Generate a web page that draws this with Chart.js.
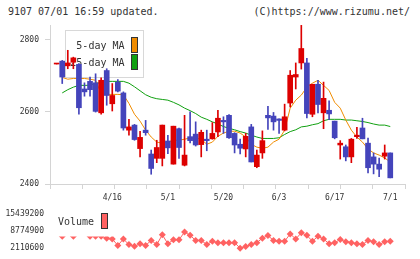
<!DOCTYPE html>
<html>
<head>
<meta charset="utf-8">
<script src="https://cdn.jsdelivr.net/npm/chart.js@4/dist/chart.umd.min.js"></script>
<style>
body { margin: 0; background: #fff; }
#wrap { position: relative; width: 420px; height: 259px; overflow: hidden; font-family: 'DejaVu Sans Mono', monospace; color: #333; }
.hdr { position: absolute; top: 6px; font-size: 10px; line-height: 12px; white-space: pre; }
#mainChart { position: absolute; left: 0; top: 0; }
#volChart { position: absolute; left: 0; top: 203px; }
</style>
</head>
<body>
<div id="wrap">
  <div class="hdr" style="left:8px">9107 07/01 16:59 updated.</div>
  <div class="hdr" style="right:10px">(C)https://www.rizumu.net/</div>
  <canvas id="mainChart" width="420" height="206"></canvas>
  <canvas id="volChart" width="420" height="56"></canvas>
</div>
<script>
// daily candles, oldest first (61 trading days)
const opens  = [2732,2740,2727,2737,2731,2663,2684,2680,2597,2714,2622,2682,2652,2549,2563,2498,2549,2483,2471,2471,
                2519,2455,2553,2452,2531,2538,2509,2524,2525,2544,2576,2590,2540,2510,2497,2558,2448,2486,2590,2588,
                2580,2549,2624,2696,2735,2735,2593,2676,2597,2604,2574,2508,2503,2475,2531,2555,2513,2475,2455,2477,2486];
const highs  = [2734,2742,2770,2751,2733,2680,2696,2705,2694,2719,2678,2689,2655,2579,2565,2546,2576,2494,2521,2563,
                2535,2560,2555,2590,2600,2572,2549,2549,2570,2604,2586,2592,2542,2524,2540,2565,2494,2547,2615,2598,
                2580,2621,2714,2735,2839,2748,2676,2687,2682,2630,2574,2520,2508,2526,2557,2582,2527,2486,2472,2508,2486];
const lows   = [2732,2678,2719,2719,2593,2643,2643,2599,2593,2618,2602,2655,2549,2535,2521,2475,2535,2427,2459,2450,
                2484,2455,2471,2450,2514,2505,2475,2492,2524,2531,2540,2526,2486,2483,2475,2461,2445,2471,2551,2549,
                2540,2547,2613,2663,2718,2583,2586,2597,2553,2578,2525,2469,2464,2459,2526,2525,2431,2428,2420,2469,2417];
const closes = [2734,2696,2735,2749,2611,2655,2661,2601,2687,2645,2645,2657,2555,2558,2523,2529,2542,2443,2501,2563,
                2500,2560,2501,2480,2520,2508,2543,2520,2540,2582,2572,2528,2508,2499,2532,2461,2480,2520,2583,2572,
                2576,2586,2701,2703,2775,2595,2676,2620,2637,2594,2528,2513,2475,2524,2535,2525,2445,2455,2441,2486,2417];

const ma5  = [null,2695,2690,2692,2692,2692,2690,2687,2650,2648,2648,2648,2647,2623,2593,2574,2549,2530,2516,2513,
              2516,2521,2521,2524,2527,2527,2524,2510,2516,2532,2541,2546,2546,2541,2530,2510,2502,2499,2502,2516,
              2524,2549,2610,2632,2646,2668,2679,2687,2673,2659,2626,2610,2577,2549,2530,2516,2497,2486,2480,2472,2461];
const ma25 = [null,2652,2661,2668,2673,2673,2673,2679,2680,2684,2684,2684,2684,2679,2669,2658,2647,2640,2636,2634,
              2632,2626,2619,2610,2603,2595,2585,2579,2572,2566,2559,2554,2550,2545,2541,2535,2530,2526,2526,2526,
              2528,2537,2545,2550,2558,2560,2564,2567,2575,2579,2579,2579,2577,2577,2575,2573,2570,2566,2563,2563,2559];

const volumes = [9035000,6760000,8385000,6760000,15439200,9685000,6760000,6760000,6760000,5947000,
                 5687000,3184000,5687000,3508000,2858000,3834000,3184000,5134000,3508000,7312000,
                 3834000,5362000,5362000,8385000,7085000,5134000,5134000,3508000,4809000,4256000,
                 4256000,4256000,4256000,2110600,2761000,3508000,4256000,6012000,6987000,5134000,
                 4809000,4809000,7637000,5687000,8060000,7085000,4809000,6760000,5687000,3834000,
                 4256000,5459000,4581000,4256000,3834000,3508000,5134000,4581000,3508000,4581000,4809000];

const dateLabels   = ['4/16', '5/1', '5/20', '6/3', '6/17', '7/1'];
const dateLabelIdx = [10, 20, 30, 40, 50, 60];
const priceTicks   = [2400, 2600, 2800];
const volumeTicks  = [2110600, 8774900, 15439200];
const maLabels     = ['5-day MA', '25-day MA'];

const upColor = '#dd0000';
const downColor = '#4444bb';
const maColors = ['#f08c00', '#10a010'];
const volColor = '#ff6262';
const axisColor = '#d4d4d4';
const tickFont = { family: 'DejaVu Sans Mono', size: 8 };

// x range picked so candle slots line up with the reference
const xMin = -1.2, xMax = 62.65;

function swatch(ctx, x, y, w, h, color) {
    ctx.fillStyle = color;
    ctx.fillRect(x, y, w, h);
    ctx.strokeStyle = '#333';
    ctx.lineWidth = 1;
    ctx.strokeRect(x, y, w, h);
}

const maLegend = {
    id: 'maLegend',
    beforeDatasetsDraw(chart) {
        const ctx = chart.ctx;
        ctx.save();
        ctx.fillStyle = '#fff';
        ctx.fillRect(65.5, 30.5, 78, 47);
        ctx.strokeStyle = '#d8d8d8';
        ctx.lineWidth = 1;
        ctx.strokeRect(65.5, 30.5, 78, 47);
        ctx.font = '10px "DejaVu Sans Mono"';
        ctx.textAlign = 'right';
        ctx.textBaseline = 'middle';
        ctx.fillStyle = '#333';
        ctx.fillText(maLabels[0], 124.5, 46);
        ctx.fillText(maLabels[1], 124.5, 63);
        swatch(ctx, 131.5, 37.5, 6, 15, maColors[0]);
        swatch(ctx, 131.5, 54.5, 6, 15, maColors[1]);
        ctx.restore();
    }
};

const volLegend = {
    id: 'volLegend',
    afterDatasetsDraw(chart) {
        const ctx = chart.ctx;
        ctx.save();
        ctx.fillStyle = '#fff';
        ctx.fillRect(52, 0, 61, 33.5);
        ctx.font = '10px "DejaVu Sans Mono"';
        ctx.textAlign = 'left';
        ctx.textBaseline = 'middle';
        ctx.fillStyle = '#333';
        ctx.fillText('Volume', 58, 19);
        swatch(ctx, 101.5, 10.5, 6, 15, volColor);
        ctx.restore();
    }
};

function initCharts() {
    const candleColors = opens.map((o, i) => closes[i] >= o ? upColor : downColor);

    new Chart(document.getElementById('mainChart'), {
        type: 'bar',
        data: {
            datasets: [
                {
                    type: 'bar', label: 'body', grouped: false, order: 0,
                    data: opens.map((o, i) => ({ x: i, y: [o, closes[i]] })),
                    backgroundColor: candleColors, barThickness: 5, minBarLength: 1
                },
                {
                    type: 'bar', label: 'wick', grouped: false, order: 1,
                    data: lows.map((l, i) => ({ x: i, y: [l, highs[i]] })),
                    backgroundColor: candleColors, barThickness: 1
                },
                {
                    type: 'line', label: maLabels[0], order: 2,
                    data: ma5.map((v, i) => ({ x: i, y: v })),
                    borderColor: maColors[0], borderWidth: 1, pointRadius: 0, tension: 0
                },
                {
                    type: 'line', label: maLabels[1], order: 3,
                    data: ma25.map((v, i) => ({ x: i, y: v })),
                    borderColor: maColors[1], borderWidth: 1, pointRadius: 0, tension: 0
                }
            ]
        },
        options: {
            responsive: false,
            animation: false,
            devicePixelRatio: 1,
            layout: { padding: { top: 25, right: 15, left: 0, bottom: 0 } },
            plugins: { legend: { display: false }, tooltip: { enabled: false } },
            scales: {
                x: {
                    type: 'linear', position: 'bottom', min: xMin, max: xMax, weight: 0, offset: false,
                    afterBuildTicks: s => {
                        const step = (xMax - xMin) / 11;
                        s.ticks = Array.from({ length: 12 }, (_, k) => ({ value: xMin + k * step }));
                    },
                    afterFit: s => { s.height = 6; },
                    ticks: { display: false },
                    grid: { drawOnChartArea: false, tickLength: 5, color: axisColor, offset: false },
                    border: { color: axisColor }
                },
                xl: {
                    type: 'linear', position: 'bottom', min: xMin, max: xMax, weight: 1, offset: false,
                    afterBuildTicks: s => { s.ticks = dateLabelIdx.map(v => ({ value: v })); },
                    afterFit: s => { s.height = 16; },
                    ticks: {
                        autoSkip: false, maxRotation: 0, padding: 3, font: tickFont, color: '#333',
                        callback: v => dateLabels[dateLabelIdx.indexOf(v)]
                    },
                    grid: { display: false, drawTicks: false },
                    border: { display: false }
                },
                y: {
                    min: 2400, max: 2840,
                    afterBuildTicks: s => { s.ticks = priceTicks.map(v => ({ value: v })); },
                    afterFit: s => { s.width = 50; },
                    ticks: { padding: 6, font: tickFont, color: '#333', callback: v => String(v) },
                    grid: { drawOnChartArea: false, tickLength: 5, color: axisColor },
                    border: { color: axisColor }
                }
            }
        },
        plugins: [maLegend]
    });

    new Chart(document.getElementById('volChart'), {
        type: 'line',
        data: {
            datasets: [{
                label: 'Volume',
                data: volumes.map((v, i) => ({ x: i, y: v })),
                borderColor: volColor, borderWidth: 1,
                pointStyle: 'rectRot', pointRadius: 3.5,
                pointBackgroundColor: volColor, pointBorderWidth: 0,
                tension: 0, clip: false
            }]
        },
        options: {
            responsive: false,
            animation: false,
            devicePixelRatio: 1,
            layout: { padding: { top: 5, right: 15, left: 0, bottom: 10 } },
            plugins: { legend: { display: false }, tooltip: { enabled: false } },
            scales: {
                x: { type: 'linear', min: xMin, max: xMax, display: false, offset: false },
                y: {
                    min: volumeTicks[0], max: volumeTicks[2],
                    afterBuildTicks: s => { s.ticks = volumeTicks.map(v => ({ value: v })); },
                    afterFit: s => { s.width = 50; },
                    ticks: { padding: 6, font: tickFont, color: '#333', callback: v => String(v) },
                    grid: { display: false, drawTicks: false },
                    border: { display: false }
                }
            }
        },
        plugins: [volLegend]
    });
}

document.addEventListener('DOMContentLoaded', function() {
    initCharts();
});
</script>
</body>
</html>
